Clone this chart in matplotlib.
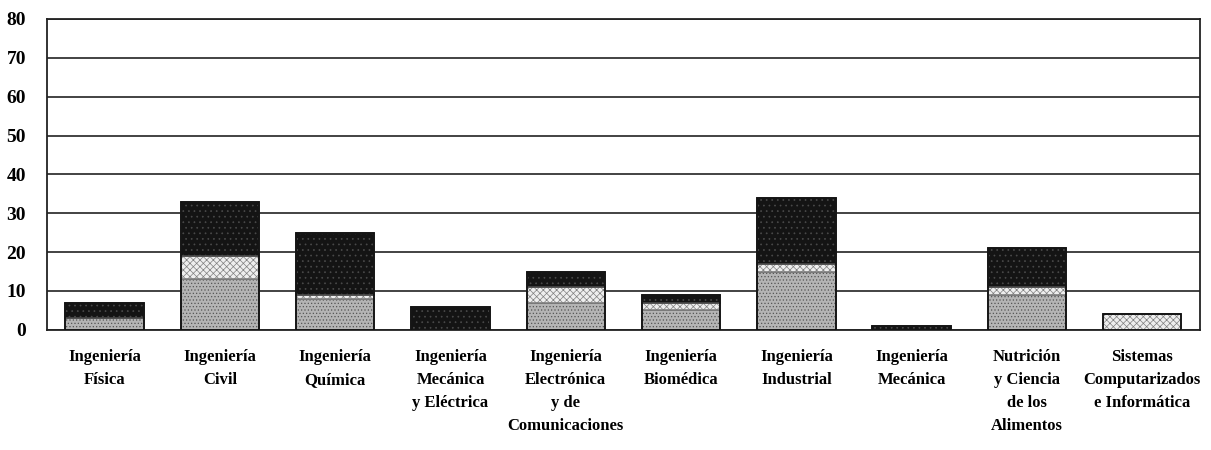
import numpy as np
import matplotlib
matplotlib.use("Agg")
import matplotlib.pyplot as plt

# Data
categories = [
    "Ingeniería\nFísica",
    "Ingeniería\nCivil",
    "Ingeniería\nQuímica",
    "Ingeniería\nMecánica\ny Eléctrica",
    "Ingeniería\nElectrónica\ny de\nComunicaciones",
    "Ingeniería\nBiomédica",
    "Ingeniería\nIndustrial",
    "Ingeniería\nMecánica",
    "Nutrición\ny Ciencia\nde los\nAlimentos",
    "Sistemas\nComputarizados\ne Informática",
]
bottom_vals = [3, 13, 8, 0, 7, 5, 15, 0, 9, 0]
middle_vals = [0, 6, 1, 0, 4, 2, 2, 0, 2, 4]
top_vals = [4, 14, 16, 6, 4, 2, 17, 1, 10, 0]
yticks = [0, 10, 20, 30, 40, 50, 60, 70, 80]

plt.rcParams["hatch.linewidth"] = 0.5
plt.rcParams["font.family"] = ["Liberation Serif", "DejaVu Serif"]

fig = plt.figure(figsize=(12.11, 4.5), dpi=100)
ax = fig.add_axes([0.0388, 0.267, 0.952, 0.691])

x = np.arange(len(categories))
w = 0.68
b1 = np.array(bottom_vals)
b2 = b1 + np.array(middle_vals)

ax.bar(x, bottom_vals, w, color="#b4b4b4", edgecolor="#555555", hatch=".....",
       linewidth=1.2, zorder=3)
ax.bar(x, middle_vals, w, bottom=b1, color="#eeeeee", edgecolor="#808080",
       hatch="xxxxx", linewidth=1.2, zorder=3)
ax.bar(x, top_vals, w, bottom=b2, color="#141414", edgecolor="#4a4a4a",
       hatch="...", linewidth=1.2, zorder=3)
# dark outlines over the stacks
ax.bar(x, b2 + np.array(top_vals), w, fill=False, edgecolor="#111111",
       linewidth=1.3, zorder=4)

ax.set_xlim(-0.5, len(categories) - 0.5)
ax.set_ylim(0, 80)
ax.set_yticks(yticks)
ax.set_yticklabels([str(v) for v in yticks], fontsize=14, fontweight="bold")
ax.set_xticks(x)
ax.set_xticklabels(categories, fontsize=12, fontweight="bold", linespacing=1.58,
                   va="top")
ax.tick_params(axis="y", length=0, pad=15)
ax.tick_params(axis="x", length=0, pad=14)

ax.yaxis.grid(True, color="#222222", linewidth=1.2, zorder=0)
ax.set_axisbelow(True)
for s in ax.spines.values():
    s.set_linewidth(1.3)
    s.set_color("#222222")

fig.savefig("out.png", dpi=100)
